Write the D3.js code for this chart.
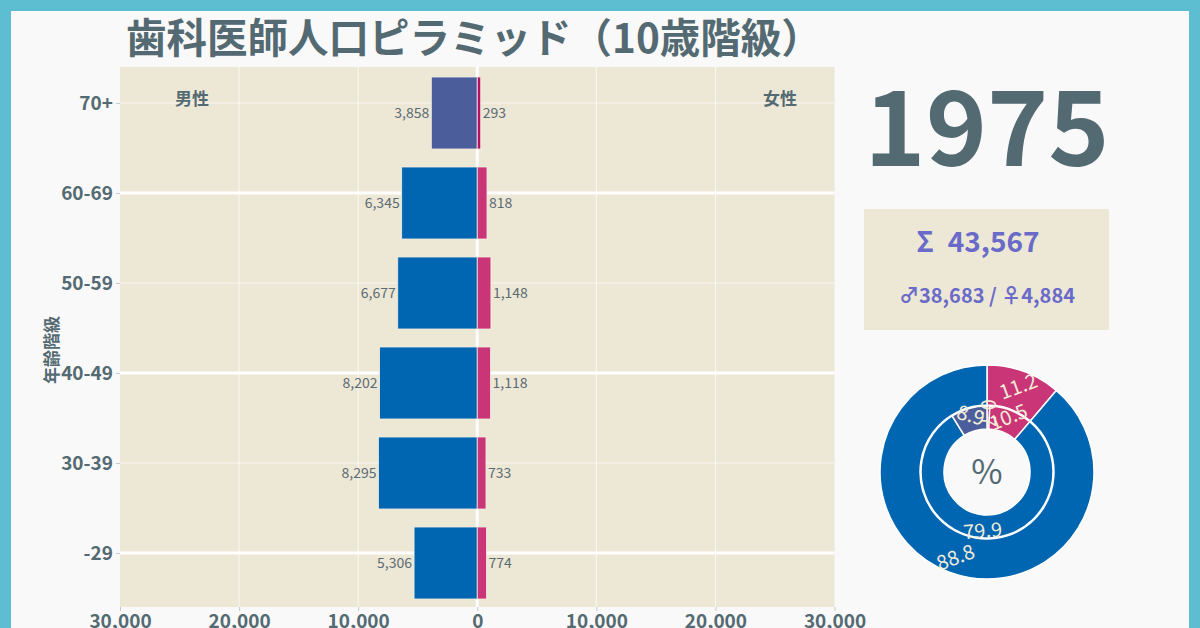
<!DOCTYPE html>
<html><head><meta charset="utf-8">
<script src="https://cdn.jsdelivr.net/npm/d3@7"></script>
<style>
body{margin:0;background:#f9f9f9;}
svg{display:block;font-family:"Noto Sans CJK JP","Noto Sans",sans-serif;}
</style>
</head><body>
<svg id="c" width="1200" height="628"></svg>
<script>
// ---- data ----
const ageGroups = ["70+", "60-69", "50-59", "40-49", "30-39", "-29"];
const maleCounts = [3858, 6345, 6677, 8202, 8295, 5306];
const femaleCounts = [293, 818, 1148, 1118, 733, 774];
const xTickValues = [-30000, -20000, -10000, 0, 10000, 20000, 30000];
const year = "1975";
const highlightGroup = "70+";
const titleText = "歯科医師人口ピラミッド（10歳階級）";

// ---- style ----
const C = {
  text: "#546a72", label: "#5b6b73", plotBg: "#ede7d6", pageBg: "#f9f9f9", frame: "#5dbdd1",
  male: "#0066b2", maleHi: "#4b5e9b", female: "#c93577", femaleHi: "#b3126b",
  stat: "#6a6ac9", pieText: "#f3ecd9"
};

const svg = d3.select("#c");
svg.append("rect").attr("width", 1200).attr("height", 628).attr("fill", C.frame);
svg.append("rect").attr("x", 11).attr("y", 11).attr("width", 1178).attr("height", 640).attr("fill", C.pageBg);

// title
svg.append("text").attr("x", 126).attr("y", 53).attr("font-size", 40.5).attr("font-weight", 700)
  .attr("fill", C.text).text(titleText);

// ---- pyramid ----
const P = {l: 120, r: 834.5, t: 67, b: 607};
const x = d3.scaleLinear().domain([-30000, 30000]).range([P.l, P.r]);
const yBand = d3.scaleBand().domain(ageGroups).range([P.t + 1, P.b + 1]).paddingInner(0.2).paddingOuter(0.1);
const yTick = d3.scalePoint().domain(ageGroups).range([P.t + 36, P.b - 54]);

const g = svg.append("g");
g.append("rect").attr("x", P.l).attr("y", P.t).attr("width", P.r - P.l).attr("height", P.b - P.t).attr("fill", C.plotBg);

// vertical grid
g.selectAll(".vg").data(xTickValues.filter(v => v !== 0 && Math.abs(v) < 30000)).join("line")
  .attr("x1", d => x(d)).attr("x2", d => x(d)).attr("y1", P.t).attr("y2", P.b)
  .attr("stroke", "#ffffff").attr("stroke-opacity", 0.75).attr("stroke-width", 1);
// horizontal grid
g.selectAll(".hg").data(ageGroups).join("line")
  .attr("x1", P.l).attr("x2", P.r).attr("y1", d => yTick(d)).attr("y2", d => yTick(d))
  .attr("stroke", "#ffffff")
  .attr("stroke-opacity", (d, i) => i % 2 ? 1 : 0.6)
  .attr("stroke-width", (d, i) => i % 2 ? 3 : 1);
// zero line
g.append("line").attr("x1", x(0)).attr("x2", x(0)).attr("y1", P.t).attr("y2", P.b)
  .attr("stroke", "#ffffff").attr("stroke-width", 3);

const rows = ageGroups.map((a, i) => ({age: a, m: maleCounts[i], f: femaleCounts[i]}));
const fmt = d3.format(",");

g.selectAll(".mb").data(rows).join("rect")
  .attr("x", d => x(-d.m)).attr("width", d => x(0) - x(-d.m))
  .attr("y", d => yBand(d.age)).attr("height", yBand.bandwidth())
  .attr("fill", d => d.age === highlightGroup ? C.maleHi : C.male)
  .attr("stroke", "#f3eedf").attr("stroke-width", 0.8);
g.selectAll(".fb").data(rows).join("rect")
  .attr("x", x(0)).attr("width", d => x(d.f) - x(0))
  .attr("y", d => yBand(d.age)).attr("height", yBand.bandwidth())
  .attr("fill", d => d.age === highlightGroup ? C.femaleHi : C.female)
  .attr("stroke", "#f3eedf").attr("stroke-width", 0.8);

g.selectAll(".ml").data(rows).join("text")
  .attr("x", d => x(-d.m) - 2).attr("y", d => yBand(d.age) + yBand.bandwidth() / 2)
  .attr("dy", "0.35em").attr("text-anchor", "end").attr("font-size", 14).attr("fill", C.label)
  .text(d => fmt(d.m));
g.selectAll(".fl").data(rows).join("text")
  .attr("x", d => x(d.f) + 2).attr("y", d => yBand(d.age) + yBand.bandwidth() / 2)
  .attr("dy", "0.35em").attr("text-anchor", "start").attr("font-size", 14).attr("fill", C.label)
  .text(d => fmt(d.f));

// sex labels
g.append("text").attr("x", 192).attr("y", 99).attr("dy", "0.35em").attr("text-anchor", "middle")
  .attr("font-size", 17).attr("font-weight", 700).attr("fill", C.text).text("男性");
g.append("text").attr("x", 780).attr("y", 99).attr("dy", "0.35em").attr("text-anchor", "middle")
  .attr("font-size", 17).attr("font-weight", 700).attr("fill", C.text).text("女性");

// axes
const yAxis = g.append("g").attr("transform", `translate(${P.l},0)`)
  .call(d3.axisLeft(yTick).tickSize(4).tickPadding(3));
yAxis.select(".domain").remove();
yAxis.selectAll("line").attr("stroke", "#c8c8c8");
yAxis.selectAll("text").attr("font-size", 19).attr("font-weight", 700).attr("fill", C.text)
  .attr("font-family", '"Noto Sans CJK JP","Noto Sans",sans-serif');

const xAxis = g.append("g").attr("transform", `translate(0,${P.b})`)
  .call(d3.axisBottom(x).tickValues(xTickValues).tickFormat(d => fmt(Math.abs(d))).tickSize(4).tickPadding(3));
xAxis.select(".domain").remove();
xAxis.selectAll("line").attr("stroke", "#c8c8c8");
xAxis.selectAll("text").attr("font-size", 19).attr("font-weight", 700).attr("fill", C.text)
  .attr("font-family", '"Noto Sans CJK JP","Noto Sans",sans-serif');

svg.append("text").attr("transform", "translate(52,350) rotate(-90)").attr("text-anchor", "middle")
  .attr("dy", "0.35em").attr("font-size", 17).attr("font-weight", 700).attr("fill", C.text).text("年齢階級");

// ---- right panel ----
const maleTotal = d3.sum(maleCounts), femaleTotal = d3.sum(femaleCounts), total = maleTotal + femaleTotal;
svg.append("text").attr("x", 987).attr("y", 166).attr("text-anchor", "middle").attr("font-size", 104)
  .attr("font-weight", 700).attr("fill", C.text).text(year);
svg.append("rect").attr("x", 864).attr("y", 209).attr("width", 245).attr("height", 121).attr("fill", C.plotBg);
svg.append("text").attr("x", 978).attr("y", 252).attr("text-anchor", "middle").attr("font-size", 28)
  .attr("font-weight", 700).attr("fill", C.stat).text("Σ\u2002" + fmt(total));
svg.append("text").attr("x", 987).attr("y", 303).attr("text-anchor", "middle").attr("font-size", 20)
  .attr("font-weight", 700).attr("fill", C.stat).text("♂" + fmt(maleTotal) + " / ♀" + fmt(femaleTotal));

// ---- donut ----
const cx = 987, cy = 472;
const hiIdx = ageGroups.indexOf(highlightGroup);
const outerData = [
  {v: femaleTotal, c: C.female},
  {v: maleTotal, c: C.male}
];
const innerData = [
  {v: femaleCounts[hiIdx], c: C.femaleHi},
  {v: femaleTotal - femaleCounts[hiIdx], c: C.female},
  {v: maleTotal - maleCounts[hiIdx], c: C.male},
  {v: maleCounts[hiIdx], c: C.maleHi}
];
const pie = d3.pie().sort(null).value(d => d.v);
const dg = svg.append("g").attr("transform", `translate(${cx},${cy})`);

function ring(data, ri, ro, rl) {
  const arcs = pie(data);
  const arc = d3.arc().innerRadius(ri).outerRadius(ro);
  dg.append("g").selectAll("path").data(arcs).join("path")
    .attr("d", arc).attr("fill", d => d.data.c).attr("stroke", "#ffffff").attr("stroke-width", 1.5);
  dg.append("g").selectAll("text").data(arcs).join("text")
    .attr("transform", d => {
      const m = (d.startAngle + d.endAngle) / 2;
      const px = Math.sin(m) * rl, py = -Math.cos(m) * rl;
      let deg = -m * 180 / Math.PI;
      while (deg <= -90) deg += 180;
      while (deg > 90) deg -= 180;
      if (d.data.v / total < 0.015) deg = 90;
      return `translate(${px},${py}) rotate(${deg})`;
    })
    .attr("text-anchor", "middle").attr("dy", "0.35em").attr("font-size", 20).attr("fill", C.pieText)
    .text(d => (d.data.v / total * 100).toFixed(1));
}
ring(outerData, 67, 107, 91);
ring(innerData, 43, 66, 59);
dg.append("text").attr("text-anchor", "middle").attr("dy", "0.35em").attr("font-size", 34)
  .attr("fill", C.text).text("%");
</script>
</body></html>
